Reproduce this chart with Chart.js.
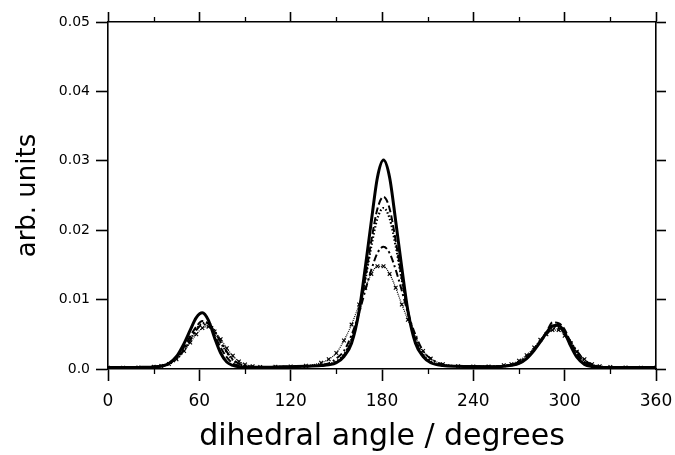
<!DOCTYPE html>
<html>
<head>
<meta charset="utf-8">
<script src="https://cdn.jsdelivr.net/npm/chart.js@4.4.1/dist/chart.umd.min.js"></script>
<style>
  body { margin: 0; background: #fff; }
  #wrap { width: 675px; height: 455px; }
</style>
</head>
<body>
<div id="wrap"><canvas id="dihedralChart" width="675" height="455"></canvas></div>
<script>
const angles = [0, 10, 20, 30, 35, 40, 45, 50, 54, 58, 62, 66, 70, 74, 78, 82, 86, 90,
    95, 100, 110, 120, 130, 140, 145, 150, 155, 160, 165, 169, 173, 177, 181, 185, 189, 193, 197,
    202, 207, 212, 220, 230, 240, 250, 260, 265, 270, 275, 280, 284, 288, 292, 296, 300, 304,
    308, 313, 318, 323, 330, 340, 350, 360];

// solid curve (tallest trans peak)
const solidVals = [0.0002, 0.0002, 0.00023, 0.0003, 0.00042, 0.0008, 0.0018, 0.0037,
    0.0056, 0.0074, 0.0081, 0.0070, 0.0045, 0.0023, 0.0010, 0.00052, 0.00033, 0.00027,
    0.00025, 0.00024, 0.00028, 0.00034, 0.0004, 0.0005, 0.0006, 0.0009, 0.0018, 0.0037, 0.0084,
    0.0146, 0.0213, 0.0276, 0.0301, 0.0276, 0.0213, 0.0146, 0.0084,
    0.0037, 0.0018, 0.0009, 0.0005, 0.0004, 0.00036, 0.00034, 0.0004, 0.00054, 0.0008, 0.0015, 0.0027,
    0.0039, 0.0052, 0.0062, 0.0063, 0.0052, 0.0033, 0.0017, 0.00067, 0.00035, 0.00026, 0.00022, 0.0002, 0.0002, 0.0002];

// long dashes
const dashVals = [0.0002, 0.0002, 0.00023, 0.00032, 0.00047, 0.0008, 0.0017, 0.0032,
    0.0047, 0.0061, 0.0069, 0.0065, 0.0049, 0.0031, 0.0017, 0.0008, 0.0005, 0.00032,
    0.00027, 0.00025, 0.00029, 0.00033, 0.00038, 0.0005, 0.00065, 0.00095, 0.002, 0.0041, 0.0083,
    0.0131, 0.0185, 0.0231, 0.0248, 0.0231, 0.0185, 0.0131, 0.0083,
    0.0041, 0.002, 0.00095, 0.00055, 0.0004, 0.00035, 0.00035, 0.00042, 0.00055, 0.00083, 0.0015, 0.0028,
    0.004, 0.0053, 0.0067, 0.0066, 0.0057, 0.0038, 0.0022, 0.001, 0.0005, 0.0003, 0.00025, 0.00022, 0.0002, 0.0002];

// dots
const dotVals = [0.0002, 0.0002, 0.00022, 0.0003, 0.0004, 0.0007, 0.0014, 0.0027,
    0.0042, 0.0057, 0.0066, 0.0066, 0.0055, 0.0038, 0.0024, 0.0013, 0.0007, 0.00044,
    0.0003, 0.00026, 0.0003, 0.00033, 0.0004, 0.00052, 0.0007, 0.0011, 0.0021, 0.0043, 0.0084,
    0.0128, 0.0177, 0.0217, 0.0232, 0.0217, 0.0177, 0.0128, 0.0084,
    0.0043, 0.0021, 0.0011, 0.00055, 0.00042, 0.00037, 0.00035, 0.00044, 0.0006, 0.001, 0.0017, 0.0029,
    0.004, 0.0052, 0.006, 0.0061, 0.0053, 0.0039, 0.0025, 0.0012, 0.0006, 0.00033, 0.00026, 0.00022, 0.0002, 0.0002];

// dash-dot
const dashDotVals = [0.0002, 0.0002, 0.00022, 0.00031, 0.00046, 0.00076, 0.0016, 0.0028,
    0.0042, 0.0056, 0.0064, 0.0064, 0.0054, 0.0039, 0.0025, 0.0014, 0.00077, 0.0005,
    0.00031, 0.00026, 0.0003, 0.00034, 0.0004, 0.0006, 0.0008, 0.0015, 0.0026, 0.0049, 0.0081,
    0.0113, 0.0143, 0.0167, 0.0176, 0.0167, 0.0143, 0.0113, 0.0081,
    0.0049, 0.0026, 0.0015, 0.00065, 0.0004, 0.00035, 0.00035, 0.00045, 0.0006, 0.001, 0.0017, 0.0028,
    0.0039, 0.005, 0.0058, 0.0059, 0.0052, 0.0039, 0.0026, 0.0013, 0.00063, 0.00036, 0.00027, 0.00022, 0.0002, 0.0002];

// crosses (broadest, lowest trans peak)
const crossVals = [0.0002, 0.0002, 0.00022, 0.00031, 0.00044, 0.00072, 0.0014, 0.0026,
    0.0038, 0.005, 0.0059, 0.0061, 0.0054, 0.0043, 0.003, 0.0019, 0.0011, 0.00065,
    0.0004, 0.0003, 0.00033, 0.00036, 0.00046, 0.0009, 0.0014, 0.0023, 0.0041, 0.0064, 0.0093,
    0.0117, 0.0137, 0.0148, 0.0148, 0.0137, 0.0117, 0.0093, 0.0071,
    0.0045, 0.0026, 0.0015, 0.0007, 0.0004, 0.00035, 0.00037, 0.00054, 0.0007, 0.0012, 0.002, 0.0031,
    0.0042, 0.005, 0.0056, 0.0056, 0.0048, 0.0037, 0.0025, 0.0014, 0.0007, 0.0004, 0.0003, 0.00023, 0.0002, 0.0002];

const xTicks = [0, 60, 120, 180, 240, 300, 360];
const xMinorTicks = [30, 90, 150, 210, 270, 330];
const yTicks = [0, 0.01, 0.02, 0.03, 0.04, 0.05];

const toPoints = (vals) => angles.map((a, i) => ({ x: a, y: vals[i] }));

// short minor ticks on top and bottom edge
const minorTicks = {
    id: 'minorTicks',
    afterDraw(chart) {
        const { ctx, chartArea } = chart;
        const x = chart.scales.x;
        ctx.save();
        ctx.strokeStyle = '#000';
        ctx.lineWidth = 1.3;
        xMinorTicks.forEach(v => {
            const px = Math.round(x.getPixelForValue(v)) + 0.5;
            ctx.beginPath();
            ctx.moveTo(px, chartArea.bottom);
            ctx.lineTo(px, chartArea.bottom + 5);
            ctx.moveTo(px, chartArea.top);
            ctx.lineTo(px, chartArea.top - 5);
            ctx.stroke();
        });
        ctx.restore();
    }
};

const axisLine = { display: true, color: '#000', width: 1.6 };
const tickGrid = (len) => ({ display: true, drawOnChartArea: false, drawTicks: true, tickLength: len, tickColor: '#000', tickWidth: 1.6 });

const line = (vals, width, dash) => ({
    data: toPoints(vals),
    borderColor: '#000',
    backgroundColor: '#000',
    borderWidth: width,
    borderDash: dash,
    pointRadius: 0,
    cubicInterpolationMode: 'monotone',
    fill: false
});

const ctx = document.getElementById('dihedralChart').getContext('2d');
new Chart(ctx, {
    type: 'line',
    data: {
        datasets: [
            line(solidVals, 3, []),
            line(dashVals, 2, [7, 3]),
            line(dotVals, 2.2, [1.5, 2]),
            line(dashDotVals, 2, [7, 3, 2, 3]),
            Object.assign(line(crossVals, 1.2, [1, 1]), {
                pointRadius: 2.6,
                pointStyle: 'crossRot',
                pointBorderWidth: 1.1
            })
        ]
    },
    options: {
        responsive: false,
        animation: false,
        layout: { padding: { left: 13, top: 0, right: 0, bottom: 0 } },
        plugins: { legend: { display: false }, tooltip: { enabled: false } },
        scales: {
            x: {
                type: 'linear',
                position: 'bottom',
                min: 0, max: 360,
                afterBuildTicks: (s) => { s.ticks = xTicks.map(v => ({ value: v })); },
                afterFit: (s) => { s.height = 86; },
                ticks: { color: '#000', padding: 2, maxRotation: 0,
                    font: { family: 'DejaVu Sans', size: 17, lineHeight: 2.14 } },
                grid: tickGrid(12),
                border: axisLine,
                title: { display: true, text: 'dihedral angle / degrees', color: '#000', padding: 0,
                    font: { family: 'DejaVu Sans', size: 30 } }
            },
            xTop: {
                type: 'linear',
                position: 'top',
                min: 0, max: 360,
                afterBuildTicks: (s) => { s.ticks = xTicks.map(v => ({ value: v })); },
                afterFit: (s) => { s.height = 22; },
                ticks: { display: false },
                grid: tickGrid(10),
                border: axisLine
            },
            y: {
                type: 'linear',
                position: 'left',
                min: 0, max: 0.05,
                afterBuildTicks: (s) => { s.ticks = yTicks.map(v => ({ value: v })); },
                afterFit: (s) => { s.width = 95; },
                ticks: { color: '#000', padding: 6, font: { family: 'DejaVu Sans', size: 14 },
                    callback: (v) => v === 0 ? '0.0' : v.toFixed(2) },
                grid: tickGrid(12),
                border: axisLine,
                title: { display: true, text: 'arb. units', color: '#000', padding: 0,
                    font: { family: 'DejaVu Sans', size: 26 } }
            },
            yRight: {
                type: 'linear',
                position: 'right',
                min: 0, max: 0.05,
                afterBuildTicks: (s) => { s.ticks = yTicks.map(v => ({ value: v })); },
                afterFit: (s) => { s.width = 19; },
                ticks: { display: false },
                grid: tickGrid(10),
                border: axisLine
            }
        }
    },
    plugins: [minorTicks]
});
</script>
</body>
</html>
